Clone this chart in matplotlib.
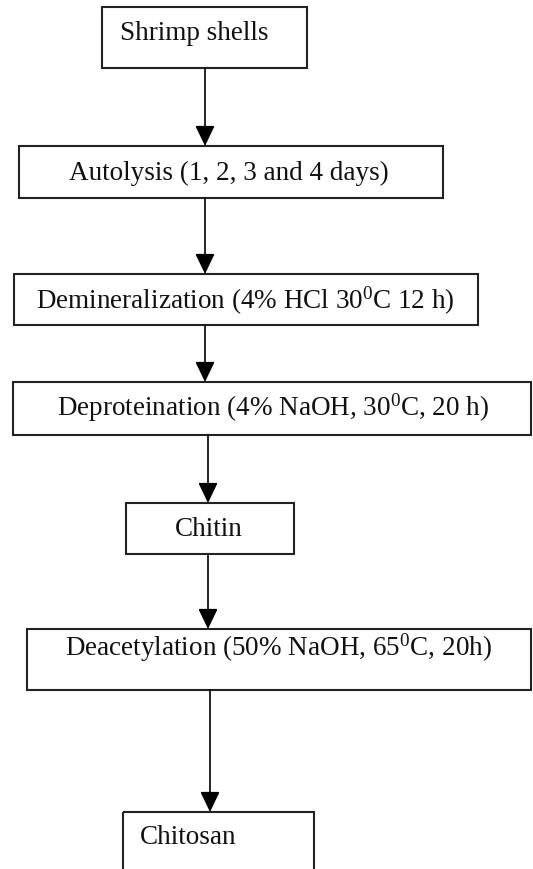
import matplotlib.pyplot as plt
from matplotlib.patches import Rectangle

plt.rcParams['font.family'] = ['Liberation Serif', 'DejaVu Serif']
plt.rcParams['mathtext.fontset'] = 'custom'
plt.rcParams['mathtext.rm'] = 'Liberation Serif'
plt.rcParams['mathtext.it'] = 'Liberation Serif'

# flowchart steps
steps = [
    'Shrimp shells',
    'Autolysis (1, 2, 3 and 4 days)',
    r'Demineralization (4% HCl 30$^\mathrm{0}$C 12 h)',
    r'Deproteination (4% NaOH, 30$^\mathrm{0}$C, 20 h)',
    'Chitin',
    r'Deacetylation (50% NaOH, 65$^\mathrm{0}$C, 20h)',
    'Chitosan',
]

# layout in pixels: box (left, top, right, bottom), text anchor, alignment
boxes = [
    (102, 7, 307, 68),
    (19, 146, 443, 198),
    (14, 274, 478, 325),
    (13, 382, 531, 435),
    (126, 503, 294, 554),
    (27, 629, 531, 690),
    (123, 812, 314, 900),
]
text_pos = [(120, 34, 'left'), (229, 173, 'center'), (245, 301, 'center'),
            (273, 408, 'center'), (209, 529, 'center'), (278, 648, 'center'),
            (140, 838, 'left')]
arrow_x = [205, 205, 205, 208, 208, 210]

fig = plt.figure(figsize=(5.33, 8.69), dpi=100)
ax = fig.add_axes([0, 0, 1, 1])
ax.set_xlim(0, 533)
ax.set_ylim(869, 0)
ax.axis('off')

for i in range(len(steps)):
    l, t, r, b = boxes[i]
    ax.add_patch(Rectangle((l, t), r - l, b - t, fill=False,
                           edgecolor='#222222', lw=1.5))
    x, y, ha = text_pos[i]
    ax.text(x, y, steps[i], ha=ha, va='center', fontsize=19.5, color='#111111')

for i in range(len(arrow_x)):
    y0 = boxes[i][3]
    y1 = boxes[i + 1][1]
    ax.annotate('', xy=(arrow_x[i], y1), xytext=(arrow_x[i], y0),
                arrowprops=dict(arrowstyle='-|>,head_length=1.25,head_width=0.6',
                                color='black', lw=1.2, shrinkA=0, shrinkB=0))

fig.savefig('out.png', dpi=100)
